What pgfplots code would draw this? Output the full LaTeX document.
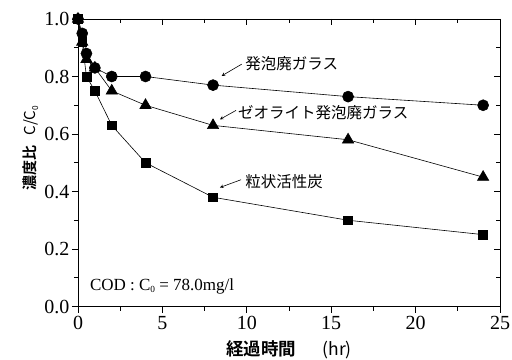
\documentclass[border=0pt]{standalone}
\usepackage{pgfplots}
\pgfplotsset{compat=1.18}
\usepackage{fontspec}
\setmainfont{Liberation Serif}
\newfontfamily\jp{Noto Sans CJK JP}
\newfontfamily\jpb{Noto Sans CJK JP Bold}
\newcommand{\sub}[1]{\raisebox{-0.15em}{\fontsize{0.55\dimexpr\csname f@size\endcsname pt\relax}{1pt}\selectfont #1}}
\begin{document}
\begin{tikzpicture}
\begin{axis}[
  scale only axis, width=422pt, height=287.5pt,
  xmin=0, xmax=25, ymin=0, ymax=1,
  xtick={0,5,...,25}, ytick={0,0.2,...,1.0},
  minor x tick num=1, minor y tick num=1,
  xtick pos=bottom, ytick pos=left,
  tick align=outside,
  major tick length=6pt, minor tick length=4pt,
  axis line style={line width=0.9pt},
  tick style={line width=0.8pt, black},
  /pgf/number format/assume math mode=true,
  yticklabel style={/pgf/number format/fixed,/pgf/number format/fixed zerofill,/pgf/number format/precision=1, xshift=1pt},
  ticklabel style={font=\fontsize{20}{21}\selectfont},
  xlabel={{\jpb 経過時間}\hspace{1.5em}{\jp (hr)}},
  ylabel={{\jpb 濃度比}\hspace{0.7em}{\jp C/C\sub{0}}},
  xlabel style={font=\fontsize{17.5}{18}\selectfont, yshift=-4pt},
  ylabel style={font=\fontsize{15}{16}\selectfont, at={(ticklabel cs:0.55)}, yshift=-1pt},
  clip=false,
]
\coordinate (O) at (rel axis cs:0,0);
\coordinate (T) at (rel axis cs:1,1);
% granular activated carbon
\addplot[black, line width=0.6pt, mark=square*, mark size=4.4pt] coordinates {
(0,1.0) (0.25,0.92) (0.5,0.80) (1,0.75) (2,0.63) (4,0.50) (8,0.38) (16,0.30) (24,0.25)};
% zeolite foam glass
\addplot[black, line width=0.6pt, mark=triangle*, mark size=6.5pt] coordinates {
(0,1.0) (0.25,0.92) (0.5,0.86) (1,0.83) (2,0.75) (4,0.70) (8,0.63) (16,0.58) (24,0.45)};
% foam waste glass
\addplot[black, line width=0.6pt, mark=*, mark size=5.5pt] coordinates {
(0,1.0) (0.25,0.95) (0.5,0.88) (1,0.83) (2,0.80) (4,0.80) (8,0.77) (16,0.73) (24,0.70)};

\draw[-stealth, line width=0.6pt] (axis cs:9.70,0.843) -- (axis cs:8.51,0.802);
\node[anchor=west, font=\jp\fontsize{15.5}{16}\selectfont, inner sep=0pt] at (axis cs:9.9,0.843) {発泡廃ガラス};
\draw[-stealth, line width=0.6pt] (axis cs:9.36,0.682) -- (axis cs:8.41,0.651);
\node[anchor=west, font=\jp\fontsize{15.5}{16}\selectfont, inner sep=0pt] at (axis cs:9.48,0.675) {ゼオライト発泡廃ガラス};
\draw[-stealth, line width=0.6pt] (axis cs:9.66,0.441) -- (axis cs:8.41,0.414);
\node[anchor=west, font=\jp\fontsize{15.5}{16}\selectfont, inner sep=0pt] at (axis cs:9.9,0.435) {粒状活性炭};
\node[anchor=west, font=\fontsize{17}{18}\selectfont, inner sep=0pt] at (axis cs:0.7,0.07) {COD : C\sub{0} = 78.0mg/l};
\end{axis}
\begin{axis}[
  scale only axis, width=422pt, height=287.5pt,
  xmin=0, xmax=25, ymin=0, ymax=1,
  xtick={0,5,...,25}, ytick={0,0.2,...,1.0},
  minor x tick num=1, minor y tick num=1,
  xtick pos=top, ytick pos=right,
  tick align=inside,
  major tick length=6pt, minor tick length=4pt,
  axis line style={line width=0.9pt},
  tick style={line width=0.8pt, black},
  xticklabels={}, yticklabels={},
]
\end{axis}
\pgfresetboundingbox
\path[use as bounding box] ([shift={(-78pt,-52.5pt)}]O) rectangle ([shift={(12pt,19pt)}]T);
\end{tikzpicture}
\end{document}
